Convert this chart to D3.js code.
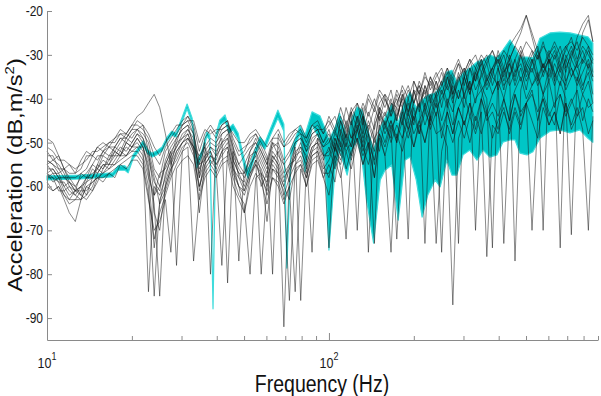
<!DOCTYPE html>
<html><head><meta charset="utf-8">
<script src="https://cdn.jsdelivr.net/npm/d3@7"></script>
<style>body{margin:0;background:#fff}svg{display:block}</style>
</head><body><svg id="c" width="601" height="396"></svg>
<script>
// ---- data ----
const freqs = [10.0,10.5,11.0,11.5,12.0,12.6,13.2,13.8,14.5,15.1,
15.8,16.6,17.4,18.2,19.1,20.0,20.9,21.9,22.9,24.0,
25.1,26.3,27.5,28.8,30.2,31.6,33.1,34.7,36.3,38.0,
39.8,41.7,43.7,45.7,47.9,50.1,52.5,55.0,57.5,60.3,
63.1,66.1,69.2,72.4,75.9,79.4,83.2,87.1,91.2,95.5,
100,105,110,115,120,126,132,138,145,151,
158,166,174,182,191,200,209,219,229,240,
251,263,275,288,302,316,331,347,363,380,
398,417,437,457,479,501,525,550,575,603,
631,661,692,724,759,794,832,863];

const s1 = [-49,-50,-53,-56,-55,-57,-54,-52,-53,-51,
-50,-51,-49,-47,-48,-46,-44,-43,-41,-39,
-42,-48,-55,-50,-46,-44,-47,-58,-49,-47,
-49,-46,-45,-50,-53,-52,-49,-48,-51,-54,
-49,-47,-50,-48,-47,-46,-49,-46,-45,-48,
-44,-47,-42,-46,-43,-41,-46,-40,-43,-39,
-42,-38,-44,-40,-37,-41,-36,-39,-35,-38,
-34,-38,-35,-32,-37,-33,-36,-31,-35,-33,
-30,-34,-31,-28,-25,-21,-26,-31,-27,-32,
-29,-33,-28,-31,-26,-23,-21,-27];
const s2 = [-57,-58,-59,-62,-63,-61,-60,-59,-56,-57,
-55,-56,-54,-52,-53,-51,-50,-52,-84,-60,
-62,-58,-53,-51,-49,-47,-50,-56,-53,-52,
-56,-52,-50,-55,-60,-66,-58,-54,-56,-60,
-55,-57,-62,-58,-55,-53,-57,-52,-51,-55,
-58,-51,-54,-49,-53,-47,-52,-48,-55,-46,
-50,-45,-49,-43,-47,-42,-48,-41,-45,-40,
-49,-43,-48,-42,-46,-41,-47,-40,-45,-43,
-47,-40,-45,-39,-44,-41,-38,-45,-39,-43,
-46,-39,-44,-41,-38,-45,-40,-43];
const s3 = [-54,-55,-57,-56,-59,-61,-62,-59,-58,-55,
-56,-54,-52,-53,-50,-51,-49,-51,-55,-66,
-70,-60,-56,-53,-50,-49,-52,-60,-55,-53,
-54,-50,-48,-53,-56,-58,-55,-53,-60,-57,
-53,-55,-92,-57,-53,-50,-54,-49,-48,-52,
-74,-49,-53,-47,-51,-44,-49,-46,-50,-43,
-47,-41,-45,-39,-44,-38,-43,-37,-41,-36,
-42,-35,-39,-34,-40,-33,-38,-35,-32,-37,
-33,-38,-31,-36,-30,-35,-32,-29,-34,-31,
-36,-30,-34,-29,-33,-31,-28,-34];
const s4 = [-56,-56,-58,-60,-59,-61,-60,-58,-58,-56,
-57,-55,-55,-53,-53,-51,-51,-53,-58,-62,
-60,-55,-52,-78,-52,-49,-51,-55,-54,-51,
-53,-51,-49,-54,-57,-60,-56,-52,-55,-58,
-54,-52,-57,-55,-51,-86,-55,-51,-50,-53,
-52,-48,-50,-45,-49,-47,-44,-51,-46,-43,
-46,-49,-42,-46,-40,-45,-41,-38,-44,-39,
-36,-41,-37,-40,-35,-39,-34,-38,-36,-33,
-38,-34,-32,-37,-33,-38,-31,-35,-32,-36,
-32,-35,-37,-31,-34,-38,-32,-35];
const s5 = [-59,-61,-60,-63,-66,-68,-63,-60,-59,-58,
-58,-57,-56,-55,-54,-53,-53,-55,-62,-72,
-66,-62,-58,-55,-52,-51,-77,-62,-57,-55,
-57,-54,-53,-58,-62,-64,-80,-58,-57,-62,
-58,-59,-63,-60,-57,-55,-60,-54,-53,-58,
-55,-59,-50,-56,-52,-49,-55,-50,-58,-48,
-53,-47,-72,-49,-45,-51,-46,-50,-44,-48,
-47,-51,-87,-49,-45,-50,-44,-48,-43,-49,
-45,-42,-48,-43,-47,-41,-45,-49,-42,-46,
-43,-48,-41,-47,-44,-42,-48,-45];
const s6 = [-53,-53,-56,-56,-58,-58,-57,-56,-53,-54,
-52,-53,-51,-49,-50,-48,-47,-48,-50,-56,
-58,-52,-50,-48,-46,-45,-48,-54,-50,-80,
-50,-47,-46,-51,-55,-53,-51,-50,-53,-56,
-51,-50,-54,-52,-49,-48,-52,-48,-47,-50,
-47,-52,-45,-49,-43,-47,-42,-75,-45,-41,
-39,-44,-41,-38,-43,-39,-37,-42,-36,-40,
-37,-34,-39,-35,-33,-38,-34,-31,-36,-33,
-31,-35,-30,-34,-29,-33,-30,-28,-33,-29,
-31,-28,-33,-30,-27,-32,-29,-31];
const s7 = [-55,-57,-57,-60,-62,-61,-61,-58,-57,-56,
-53,-54,-51,-52,-49,-50,-48,-50,-53,-58,
-64,-57,-54,-51,-48,-47,-49,-57,-52,-50,
-51,-49,-82,-52,-55,-57,-54,-51,-54,-57,
-52,-54,-58,-56,-52,-51,-53,-75,-49,-51,
-49,-54,-47,-51,-45,-50,-44,-48,-52,-42,
-46,-43,-40,-45,-41,-46,-39,-73,-40,-44,
-38,-42,-36,-40,-35,-39,-33,-37,-40,-74,
-33,-37,-35,-31,-36,-32,-34,-30,-35,-31,
-34,-37,-30,-33,-36,-31,-33,-36];
const s8 = [-57,-59,-58,-61,-60,-61,-57,-58,-55,-56,
-54,-55,-52,-53,-50,-51,-49,-51,-56,-64,
-85,-59,-55,-52,-50,-48,-51,-58,-54,-52,
-55,-52,-51,-56,-58,-61,-57,-54,-80,-59,
-54,-56,-60,-56,-53,-52,-55,-51,-50,-54,
-51,-56,-48,-52,-50,-45,-51,-47,-73,-44,
-48,-45,-50,-42,-47,-44,-41,-46,-42,-39,
-45,-40,-43,-38,-42,-36,-70,-40,-35,-39,
-36,-40,-34,-77,-38,-33,-37,-35,-39,-33,
-37,-33,-38,-35,-32,-37,-34,-39];
const s9 = [-52,-54,-53,-56,-57,-57,-56,-53,-53,-51,
-52,-50,-50,-48,-48,-46,-46,-47,-49,-53,
-55,-51,-49,-47,-45,-44,-46,-52,-48,-46,
-48,-46,-45,-49,-52,-51,-50,-48,-50,-53,
-80,-48,-51,-50,-48,-47,-50,-47,-46,-48,
-46,-44,-48,-42,-46,-41,-44,-39,-42,-38,
-40,-43,-38,-41,-72,-36,-39,-34,-38,-35,
-33,-37,-34,-31,-35,-32,-30,-34,-31,-29,
-33,-30,-35,-31,-28,-32,-29,-34,-70,-30,
-28,-32,-29,-26,-31,-28,-30,-32];
const s10 = [-58,-58,-61,-61,-63,-63,-61,-61,-59,-58,
-57,-56,-55,-54,-53,-52,-52,-54,-60,-85,
-63,-60,-56,-54,-51,-50,-53,-60,-56,-54,
-56,-78,-52,-57,-60,-62,-58,-55,-58,-61,
-56,-58,-61,-86,-55,-54,-58,-53,-52,-56,
-54,-50,-56,-72,-53,-47,-51,-55,-49,-52,
-45,-50,-46,-49,-43,-48,-45,-42,-47,-43,
-75,-41,-46,-42,-39,-44,-40,-38,-43,-39,
-36,-73,-42,-38,-35,-40,-37,-34,-39,-36,
-42,-36,-40,-71,-35,-39,-36,-41];
const s11 = [-54,-55,-56,-58,-58,-60,-58,-57,-55,-53,
-53,-51,-51,-49,-49,-47,-47,-49,-52,-57,
-60,-54,-51,-49,-47,-46,-48,-55,-51,-49,
-50,-48,-47,-52,-77,-55,-52,-50,-52,-55,
-50,-51,-55,-53,-50,-49,-51,-48,-47,-50,
-48,-52,-45,-49,-43,-70,-44,-47,-42,-45,
-40,-44,-39,-42,-38,-41,-37,-40,-35,-39,
-36,-33,-38,-73,-34,-31,-36,-32,-30,-35,
-29,-33,-28,-26,-24,-21,-25,-29,-33,-30,
-34,-74,-31,-28,-32,-25,-22,-27];
const s12 = [-60,-61,-60,-62,-64,-63,-63,-60,-61,-58,
-59,-57,-58,-55,-56,-54,-54,-56,-63,-70,
-68,-63,-75,-56,-54,-53,-55,-63,-58,-56,
-58,-55,-54,-60,-63,-66,-60,-57,-59,-64,
-58,-60,-64,-60,-84,-56,-60,-55,-54,-58,
-62,-54,-58,-52,-56,-50,-55,-51,-58,-49,
-53,-75,-48,-52,-47,-51,-45,-50,-44,-73,
-52,-46,-50,-45,-49,-44,-48,-43,-76,-46,
-48,-43,-47,-42,-46,-41,-70,-45,-40,-46,
-43,-48,-41,-46,-42,-47,-70,-44];
const s13 = [-55,-54,-55,-57,-60,-62,-63,-62,-58,-55,
-52,-51,-52,-50,-48,-49,-47,-46,-52,-62,
-57,-56,-53,-49,-47,-46,-51,-53,-51,-55,
-53,-48,-47,-51,-58,-59,-52,-49,-52,-55,
-50,-53,-55,-59,-50,-49,-52,-50,-48,-51,
-50,-47,-51,-46,-49,-44,-48,-43,-47,-42,
-44,-40,-45,-39,-43,-38,-42,-37,-40,-36,
-39,-35,-40,-36,-33,-38,-35,-32,-37,-34,
-31,-36,-32,-35,-30,-34,-31,-36,-32,-35,
-30,-34,-31,-35,-32,-29,-33,-31];
const s14 = [-57,-56,-58,-58,-59,-60,-62,-63,-61,-59,
-56,-53,-53,-51,-52,-50,-48,-49,-54,-59,
-61,-55,-52,-50,-49,-48,-52,-61,-53,-51,
-52,-50,-49,-54,-57,-57,-53,-52,-57,-59,
-53,-55,-59,-55,-54,-51,-56,-52,-49,-53,
-53,-49,-52,-48,-51,-46,-50,-45,-49,-47,
-43,-47,-44,-40,-45,-41,-38,-43,-39,-42,
-40,-37,-41,-35,-39,-36,-41,-34,-38,-35,
-37,-33,-37,-34,-32,-36,-33,-37,-34,-31,
-35,-32,-36,-33,-37,-34,-31,-35];
const s15 = [-58,-57,-59,-59,-61,-62,-60,-62,-60,-57,
-55,-55,-53,-53,-51,-52,-51,-51,-57,-74,
-64,-61,-57,-52,-50,-49,-51,-66,-55,-53,
-55,-53,-51,-56,-60,-61,-57,-55,-57,-68,
-56,-57,-60,-63,-56,-55,-58,-53,-52,-57,
-57,-53,-55,-50,-54,-49,-53,-50,-54,-48,
-51,-46,-50,-45,-49,-44,-48,-43,-46,-41,
-47,-43,-48,-42,-46,-41,-45,-40,-44,-41,
-44,-40,-45,-39,-43,-41,-39,-43,-40,-44,
-41,-39,-43,-40,-44,-39,-42,-41];
const s16 = [-51,-52,-54,-54,-55,-56,-55,-54,-52,-52,
-51,-50,-49,-48,-49,-47,-45,-46,-48,-51,
-53,-50,-48,-46,-46,-45,-45,-50,-47,-48,
-47,-47,-46,-48,-50,-50,-48,-47,-49,-51,
-49,-49,-51,-49,-47,-48,-49,-46,-47,-47,
-45,-48,-44,-47,-42,-45,-41,-44,-40,-43,
-39,-41,-42,-37,-40,-36,-39,-35,-37,-34,
-37,-33,-36,-32,-34,-31,-33,-30,-32,-29,
-32,-29,-31,-28,-30,-27,-29,-31,-28,-30,
-27,-30,-28,-27,-29,-26,-28,-30];
const measured = [s1,s2,s3,s4,s5,s6,s7,s8,s9,s10,s11,s12,s13,s14,s15,s16];

const bandFreq = [10,13.1,17.1,17.9,18.9,19.4,20.2,21.4,21.9,22.8,
23.6,24.5,25.6,26.7,27.7,28.7,30.1,31.4,32.7,34.0,
35.5,36.9,37.8,38.8,39.7,41.0,42.8,44.2,45.7,47.6,
50.4,51.6,54.7,56.9,59.3,61.8,65.9,69.2,70.9,73.3,
75.7,78.9,82.2,87.1,92.9,96.8,100,105,109,116,
121,126,131,136,144,152,158,167,176,186,
194,204,214,224,238,248,262,273,284,299,
316,335,352,372,394,414,439,457,476,504,
529,560,608,659,716,776,829,863];
const bandUpper = [-57.6,-57.4,-56.9,-55.3,-55.3,-56.0,-52.8,-50.6,-49.6,-51.7,
-52.4,-51.9,-51.0,-48.7,-47.4,-47.8,-44.4,-41.2,-44.4,-54.4,
-51.7,-47.6,-48.3,-87.0,-48.3,-44.9,-43.7,-46.7,-45.8,-47.8,
-54.7,-56.3,-51.7,-48.7,-50.1,-47.1,-42.6,-45.8,-77.2,-51.7,
-49.4,-46.2,-48.3,-43.0,-43.9,-46.7,-49.4,-46.7,-43.3,-49.0,
-44.2,-41.9,-42.6,-46.0,-51.7,-46.7,-44.4,-41.2,-45.5,-40.3,
-38.5,-42.1,-40.3,-39.2,-38.7,-37.3,-33.9,-33.5,-36.2,-34.1,
-33.0,-31.6,-31.2,-30.0,-30.7,-28.9,-26.6,-28.4,-30.5,-30.5,
-30.7,-26.2,-25.0,-24.8,-25.0,-25.5,-25.9,-27.3];
const bandLower = [-58.5,-58.3,-57.8,-56.3,-56.3,-56.9,-53.7,-51.5,-50.6,-52.6,
-53.3,-52.8,-51.9,-49.6,-48.3,-48.7,-45.3,-42.3,-45.5,-55.8,
-52.8,-48.5,-49.4,-87.9,-49.4,-46.0,-45.1,-47.8,-47.1,-49.2,
-56.3,-58.1,-53.1,-50.1,-51.5,-48.5,-44.4,-47.4,-78.6,-53.3,
-51.0,-48.0,-56.7,-46.0,-49.4,-54.0,-74.5,-56.3,-51.7,-57.4,
-51.7,-49.4,-54.0,-63.1,-72.9,-58.5,-56.3,-55.1,-67.7,-54.0,
-53.3,-58.5,-67.0,-62.0,-58.5,-60.1,-54.0,-57.4,-57.4,-52.8,
-51.7,-54.0,-51.7,-53.3,-52.8,-49.9,-49.4,-49.4,-52.4,-52.8,
-52.1,-49.0,-47.4,-47.1,-47.8,-47.1,-49.0,-49.9];

const yTicks = [-90,-80,-70,-60,-50,-40,-30,-20];
const xMajor = [10,100];
const xMinor = [20,30,40,50,60,70,80,90,200,300,400,500,600,700,800,900];
const xLabel = "Frequency (Hz)";
const yLabelMain = "Acceleration (dB,m/s";

// ---- drawing ----
const svg = d3.select("#c");
const font = "'Liberation Sans', Arial, Helvetica, sans-serif";
const x = d3.scaleLog().domain([10, 900]).range([47, 598]);
const y = d3.scaleLinear().domain([-95, -20]).range([340, 11]);

// cyan band
const bandData = bandFreq.map((f, i) => ({f, u: bandUpper[i], l: bandLower[i]}));
svg.append("path").datum(bandData)
  .attr("d", d3.area().x(d => x(d.f)).y0(d => y(d.l)).y1(d => y(d.u)))
  .attr("fill", "#00c6c6")
  .attr("stroke", "#3fdcdc").attr("stroke-width", 1.2).attr("stroke-linejoin", "round");

// measured lines
const line = d3.line().x((d, i) => x(freqs[i])).y(d => y(d));
svg.append("g").selectAll("path").data(measured).join("path")
  .attr("d", line)
  .attr("fill", "none")
  .attr("stroke", "#151515")
  .attr("stroke-width", 0.65)
  .attr("stroke-opacity", 0.78)
  .attr("stroke-linejoin", "round");

// axes
const axisColor = "#8a8a8a";
const gy = svg.append("g").attr("transform", "translate(47,0)")
  .call(d3.axisLeft(y).tickValues(yTicks).tickSize(-5).tickSizeOuter(0).tickFormat(""));
const gx = svg.append("g").attr("transform", "translate(0,340)")
  .call(d3.axisBottom(x).tickValues(xMajor.concat(xMinor)).tickSize(-4).tickSizeOuter(0).tickFormat(""));
gx.selectAll(".tick line").filter(d => xMajor.includes(d)).attr("y2", -7);
[gx, gy].forEach(g => {
  g.select(".domain").attr("stroke", axisColor);
  g.selectAll(".tick line").attr("stroke", axisColor);
});

// y tick labels
svg.append("g").selectAll("text").data(yTicks).join("text")
  .attr("transform", d => `translate(43,${y(d) + 5}) scale(1,1.18)`)
  .attr("text-anchor", "end")
  .attr("font-family", font).attr("font-size", 12).attr("fill", "#1a1a1a")
  .text(d => d);

// x tick labels 10^n
const xt = svg.append("g").selectAll("text").data(xMajor).join("text")
  .attr("transform", d => `translate(${x(d)},368) scale(1,1.18)`)
  .attr("text-anchor", "middle")
  .attr("font-family", font).attr("font-size", 12.5).attr("fill", "#1a1a1a");
xt.append("tspan").text("10");
xt.append("tspan").attr("dy", -7).attr("font-size", 9).text(d => Math.round(Math.log10(d)));

// x label
svg.append("text")
  .attr("transform", "translate(322,392) scale(1,1.22)")
  .attr("text-anchor", "middle")
  .attr("font-family", font).attr("font-size", 19.5).attr("fill", "#111")
  .text(xLabel);

// y label
const yl = svg.append("text")
  .attr("transform", "translate(22,175) rotate(-90) scale(1.15,1)")
  .attr("text-anchor", "middle")
  .attr("font-family", font).attr("font-size", 20.5).attr("fill", "#111");
yl.append("tspan").text(yLabelMain);
yl.append("tspan").attr("dy", -8).attr("font-size", 13).text("2");
yl.append("tspan").attr("dy", 8).text(")");
</script>
</body></html>
